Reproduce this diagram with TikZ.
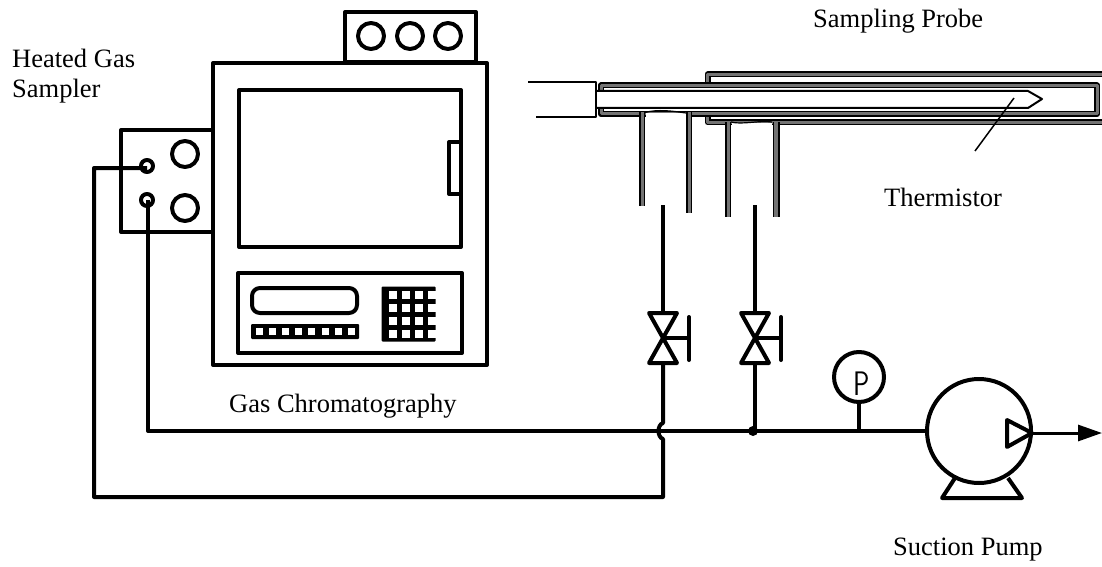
\documentclass[tikz,border=0pt]{standalone}
\usepackage{fontspec}
\setmainfont{Liberation Serif}
\usetikzlibrary{arrows.meta,positioning,calc}

\begin{document}
\begin{tikzpicture}[
      x=1pt, y=-1pt,
      line join=round,
      every node/.style={font=\fontsize{26.5}{30}\selectfont},
      unitbox/.style={rectangle, draw, line width=4pt, inner sep=0pt, minimum width=#1},
      dial/.style={circle, draw, line width=4pt, inner sep=0pt, minimum size=#1},
      wall/.style={line width=1.5pt, double=black!55, double distance=3pt},
      pipe/.style={line width=4pt},
      caption/.style={align=left, anchor=base west, inner sep=0pt},
      >=Stealth,
  ]
      \useasboundingbox (0,0) rectangle (1102,567);

      % --- GAS CHROMATOGRAPHY ---
      \node[unitbox=131pt, minimum height=50pt] (topbox) at (410.5,37) {};
      \node[dial=26pt] (topa) at (371,36) {};
      \node[dial=26pt] (topb) at (410,36) {};
      \node[dial=26pt] (topc) at (448,36) {};
      \node[unitbox=274pt, minimum height=302pt, fill=white] (oven) at (350,214) {};
      \node[unitbox=222pt, minimum height=157pt] (window) at (350,168.5) {};
      \node[unitbox=12pt, minimum height=52pt] (handle) at (455,168) {};
      \node[unitbox=224pt, minimum height=80pt] (panel) at (350,313) {};
      \node[unitbox=105pt, minimum height=25pt, rounded corners=8pt] (display) at (304.5,300.5) {};

      % tira de teclas
      \node[rectangle, fill=black, rounded corners=1pt, minimum width=108pt, minimum height=15pt] (strip) at (305,331.5) {};
      \foreach \k in {0,...,7}
        \node[fill=white, inner sep=0pt, minimum size=7pt] at (259+13.2*\k,331.5) {};

      % teclado
      \node[rectangle, fill=black, rounded corners=1pt, minimum width=54pt, minimum height=55pt] (keypad) at (408.5,314) {};
      \foreach \i in {0,...,3}
        \foreach \j in {0,...,3}
          \node[fill=white, inner sep=0pt, minimum size=7.5pt] at (393+13*\i,295+13*\j) {};

      % --- HEATED GAS SAMPLER ---
      \node[unitbox=92pt, minimum height=102pt] (sampler) at (167,181) {};
      \node[dial=26pt] (dialup) at (185,154) {};
      \node[dial=26pt] (dialdown) at (185,208) {};
      \node[dial=12pt] (portin) at (147,166) {};
      \node[dial=12pt] (portout) at (147,200) {};
      \coordinate (inlet) at (147,168);
      \coordinate (outletport) at (148,200);

      % --- SAMPLING PROBE ---
      \draw[line width=2pt] (528,82) -- (596,82) -- (596,117) -- (536,117);
      \draw[wall] (1102,74.5) -- (707.5,74.5) -- (707.5,84);
      \draw[wall] (1102,122.5) -- (707.5,122.5) -- (707.5,115);
      \draw[wall] (601,91) -- (601,85.5) -- (1097,85.5) -- (1097,114) -- (601,114) -- (601,108);
      \draw[line width=2pt] (596,91) -- (1028,91) -- (1042,99) -- (1028,108) -- (596,108);
      \draw[line width=1.5pt] (1014,98) -- (975,151);

      \draw[wall] (642,112) -- (642,206);
      \draw[wall] (689,112) -- (689,213);
      \draw[wall] (728,122) -- (728,217);
      \draw[wall, double distance=4pt] (776,122) -- (776,217);
      \fill[white] (645.5,113) rectangle (685.5,118.5);
      \fill[white] (731.5,123) rectangle (771.5,127);
      \draw[line width=1.2pt] (645,112.5) .. controls (658,109) and (672,111) .. (686,113);
      \draw[line width=1.2pt] (731,122) .. controls (742,125) and (760,120) .. (772,122);

      % --- VALVULAS ---
      \coordinate (probea) at (663,205);
      \coordinate (probeb) at (755,205);
      \foreach \v/\vx in {a/663,b/755} {
        \coordinate (valve\v) at (\vx,338);
        \draw[pipe] (\vx-14,313) -- (\vx+14,313) -- (\vx-14,363) -- (\vx+14,363) -- cycle;
        \draw[pipe] (valve\v) -- ++(26,0) coordinate (stem\v);
        \draw[pipe, line cap=round] ($(stem\v)+(0,-21)$) -- ($(stem\v)+(0,22)$);
      }

      % --- BOMBA ---
      \node[dial=104pt] (pump) at (979,431) {};
      \node[dial=50pt] (gauge) at (859,377) {};
      \node[inner sep=0pt, font=\sffamily\fontsize{34}{34}\selectfont] (gaugeletter) at (862,384) {\scalebox{0.8}[1]{P}};
      \coordinate (tee) at (859,431);
      \coordinate (junction) at (753,431);
      \coordinate (pumpout) at (1032,433);
      \coordinate (outlet) at (1102,433);
      \draw[pipe] (1007,420) -- (pumpout) -- (1007,447) -- cycle;
      \draw[pipe] (955,478) -- (942,498) -- (1022,498) -- (1008,478);

      % --- LINHAS ---
      \draw[pipe] (outletport) -- (148,431) -- (pump.west |- 0,431);
      \draw[pipe] (gauge) -- (tee);
      \fill (junction) circle (5pt);
      \draw[pipe] (probea) -- (valvea |- 0,313);
      \draw[pipe] (probeb) -- (valveb |- 0,313);
      \draw[pipe] (valveb |- 0,363) -- (junction -| valveb);
      \draw[pipe] (valvea |- 0,363) -- (663,423) .. controls (657,425) and (657,437) .. (663,439) -- (663,497) -- (94,497) -- (94,168) -- (inlet);
      \draw[-{Triangle[length=24pt,width=16pt]}, line width=3pt] (pumpout) -- (outlet);

      % --- TEXTOS ---
      \node[caption] (samplerlabel) at (12,98) {Heated Gas\\Sampler};
      \node[caption] (probelabel) at (813,28) {Sampling Probe};
      \node[caption] (thermlabel) at (884,206) {Thermistor};
      \node[caption] (gclabel) at (229,412) {Gas Chromatography};
      \node[caption] (pumplabel) at (893,555) {Suction Pump};
  \end{tikzpicture}
\end{document}
